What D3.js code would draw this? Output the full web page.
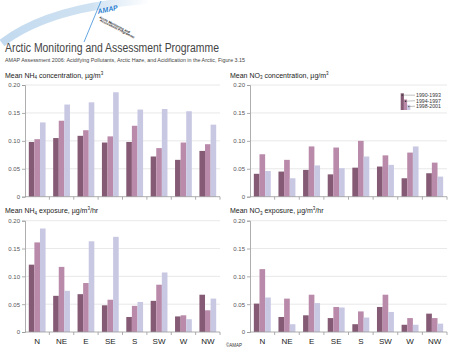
<!DOCTYPE html>
<html>
<head>
<meta charset="utf-8">
<script src="https://cdn.jsdelivr.net/npm/d3@7"></script>
<style>
  body { margin: 0; background: #fff; }
  svg { display: block; font-family: "Liberation Sans", Arial, sans-serif; }
</style>
</head>
<body>
<div id="chart"></div>
<script>
// Data
const directions = ["N", "NE", "E", "SE", "S", "SW", "W", "NW"];
const periods = ["1990-1993", "1994-1997", "1998-2001"];
const yTicks = [0, 0.05, 0.10, 0.15, 0.20];

// each array: [1990-1993, 1994-1997, 1998-2001] per direction
const nh4Concentration = [
    [0.098, 0.105, 0.109, 0.097, 0.098, 0.072, 0.066, 0.082],
    [0.103, 0.136, 0.119, 0.108, 0.127, 0.087, 0.097, 0.094],
    [0.133, 0.165, 0.169, 0.187, 0.156, 0.157, 0.153, 0.129]
];
const no3Concentration = [
    [0.041, 0.045, 0.048, 0.040, 0.052, 0.054, 0.033, 0.042],
    [0.076, 0.066, 0.090, 0.088, 0.100, 0.074, 0.079, 0.061],
    [0.046, 0.033, 0.056, 0.051, 0.072, 0.057, 0.090, 0.036]
];
const nh4Exposure = [
    [0.121, 0.065, 0.068, 0.048, 0.027, 0.056, 0.028, 0.067],
    [0.161, 0.117, 0.088, 0.058, 0.047, 0.085, 0.030, 0.039],
    [0.186, 0.074, 0.163, 0.171, 0.054, 0.107, 0.023, 0.060]
];
const no3Exposure = [
    [0.051, 0.027, 0.030, 0.025, 0.014, 0.045, 0.013, 0.033],
    [0.113, 0.060, 0.067, 0.045, 0.037, 0.067, 0.025, 0.025],
    [0.062, 0.014, 0.052, 0.044, 0.026, 0.036, 0.013, 0.015]
];

const colors = ["#845a74", "#b98aa9", "#c8c8e3"];

const svg = d3.select("#chart")
              .append("svg")
              .attr("width", 450)
              .attr("height", 350);

svg.append("rect").attr("width", 450).attr("height", 350).attr("fill", "#fff");

// Header: arc, logo, titles
const defs = svg.append("defs");
const grad = defs.append("linearGradient")
                 .attr("id", "arcGrad")
                 .attr("x1", "0%").attr("x2", "100%");
grad.append("stop").attr("offset", "0%").attr("stop-color", "#c3daef");
grad.append("stop").attr("offset", "60%").attr("stop-color", "#cfe2f2");
grad.append("stop").attr("offset", "100%").attr("stop-color", "#ffffff");

svg.append("path")
   .attr("d", "M2,43 Q50,6 150,0")
   .attr("fill", "none")
   .attr("stroke", "url(#arcGrad)")
   .attr("stroke-width", 8);

svg.append("line")
   .attr("x1", 84).attr("y1", 42)
   .attr("x2", 101).attr("y2", 1)
   .attr("stroke", "#3c8fd8")
   .attr("stroke-width", 0.8);

svg.append("text")
   .attr("transform", "translate(98,14) rotate(-12)")
   .attr("font-size", 7)
   .attr("font-style", "italic")
   .attr("font-weight", "bold")
   .attr("fill", "#2a7fd0")
   .text("AMAP");

const logoLines = ["Arctic Monitoring and", "Assessment Programme"];
logoLines.forEach((t, i) => {
    svg.append("text")
       .attr("transform", `translate(${99 + i * 0.5},${18 + i * 3}) rotate(27)`)
       .attr("font-size", 3.3)
       .attr("font-weight", "bold")
       .attr("fill", "#222")
       .text(t);
});

svg.append("text")
   .attr("x", 5).attr("y", 52)
   .attr("font-size", 12.5)
   .attr("fill", "#444")
   .attr("textLength", 214)
   .attr("lengthAdjust", "spacingAndGlyphs")
   .text("Arctic Monitoring and Assessment Programme");

svg.append("text")
   .attr("x", 5).attr("y", 61.5)
   .attr("font-size", 5.5)
   .attr("fill", "#444")
   .attr("textLength", 240)
   .attr("lengthAdjust", "spacingAndGlyphs")
   .text("AMAP Assessment 2006: Acidifying Pollutants, Arctic Haze, and Acidification in the Arctic, Figure 3.15");

// Panels
const panels = [
    { data: nh4Concentration, species: "NH", sub: "4", rest: " concentration, µg/m", unit: "", x0: 25, x1: 220, top: 85, bottom: 196.7, titleY: 77.5, labels: false },
    { data: no3Concentration, species: "NO", sub: "3", rest: " concentration, µg/m", unit: "", x0: 250, x1: 447, top: 85, bottom: 196.7, titleY: 77.5, labels: false, legend: true },
    { data: nh4Exposure, species: "NH", sub: "4", rest: " exposure, µg/m", unit: "/hr", x0: 25, x1: 220, top: 220.7, bottom: 332, titleY: 213, labels: true },
    { data: no3Exposure, species: "NO", sub: "3", rest: " exposure, µg/m", unit: "/hr", x0: 250, x1: 447, top: 220.7, bottom: 332, titleY: 213, labels: true }
];

panels.forEach(p => {
    const g = svg.append("g");

    const x = d3.scaleBand()
                .domain(directions)
                .range([p.x0, p.x1]);

    const xInner = d3.scaleBand()
                     .domain(periods)
                     .range([0, x.bandwidth()])
                     .paddingOuter(0.68);

    const y = d3.scaleLinear()
                .domain([0, 0.2])
                .range([p.bottom, p.top]);

    // gridlines
    g.selectAll(".grid")
     .data(yTicks.filter(d => d > 0))
     .enter()
     .append("line")
     .attr("x1", p.x0).attr("x2", p.x1)
     .attr("y1", d => y(d)).attr("y2", d => y(d))
     .attr("stroke", "#e2e2e2")
     .attr("stroke-width", 0.8);

    // bars
    p.data.forEach((series, si) => {
        g.selectAll(".bar" + si)
         .data(series)
         .enter()
         .append("rect")
         .attr("x", (d, i) => x(directions[i]) + xInner(periods[si]))
         .attr("y", d => y(d))
         .attr("width", xInner.bandwidth())
         .attr("height", d => y(0) - y(d))
         .attr("fill", colors[si]);
    });

    // y axis
    const yAxis = g.append("g")
                   .attr("transform", `translate(${p.x0},0)`)
                   .call(d3.axisLeft(y)
                           .tickValues(yTicks)
                           .tickSize(3)
                           .tickFormat(d => d === 0 ? "0" : d3.format(".2f")(d)));
    yAxis.select(".domain").attr("stroke", "#999").attr("stroke-width", 0.8);
    yAxis.selectAll(".tick line").attr("stroke", "#999").attr("stroke-width", 0.8);
    yAxis.selectAll(".tick text")
         .attr("font-size", 6)
         .attr("fill", "#555")
         .attr("x", -5)
         .style("font-family", "Liberation Sans, Arial, sans-serif");

    // x axis baseline and boundary ticks
    g.append("line")
     .attr("x1", p.x0).attr("x2", p.x1)
     .attr("y1", y(0)).attr("y2", y(0))
     .attr("stroke", "#999")
     .attr("stroke-width", 0.8);

    const bounds = directions.map(d => x(d)).concat([p.x1]).slice(1);
    g.selectAll(".xtick")
     .data(bounds)
     .enter()
     .append("line")
     .attr("x1", d => d).attr("x2", d => d)
     .attr("y1", y(0)).attr("y2", y(0) + 3)
     .attr("stroke", "#999")
     .attr("stroke-width", 0.8);

    if (p.labels) {
        g.selectAll(".xlabel")
         .data(directions)
         .enter()
         .append("text")
         .attr("x", d => x(d) + x.bandwidth() / 2)
         .attr("y", y(0) + 12)
         .attr("text-anchor", "middle")
         .attr("font-size", 8)
         .attr("fill", "#222")
         .text(d => d);
    }

    // title with sub/superscripts
    const t = g.append("text")
               .attr("x", p.x0 - 20)
               .attr("y", p.titleY)
               .attr("font-size", 7)
               .attr("fill", "#222");
    t.append("tspan").text("Mean " + p.species);
    t.append("tspan").attr("font-size", 4.5).attr("dy", 1.5).text(p.sub);
    t.append("tspan").attr("dy", -1.5).text(p.rest);
    t.append("tspan").attr("font-size", 4.5).attr("dy", -3).text("3");
    t.append("tspan").attr("dy", 3).text(p.unit);

    // legend
    if (p.legend) {
        const lx = 400.7, lb = 110, bw = 3.2;
        const tops = [93.3, 99.5, 104.8];
        const labelY = [97, 102.5, 108];
        periods.forEach((per, i) => {
            g.append("rect")
             .attr("x", lx + i * bw).attr("y", tops[i])
             .attr("width", bw).attr("height", lb - tops[i])
             .attr("fill", colors[i]);
            g.append("circle")
             .attr("cx", lx + i * bw + bw / 2).attr("cy", tops[i] + 1.8)
             .attr("r", 0.7)
             .attr("fill", i === 2 ? "#555" : "#222");
            g.append("line")
             .attr("x1", lx + i * bw + bw / 2).attr("x2", 415)
             .attr("y1", tops[i] + 1.8).attr("y2", labelY[i] - 1.8)
             .attr("stroke", "#666")
             .attr("stroke-width", 0.4);
            g.append("text")
             .attr("x", 416).attr("y", labelY[i])
             .attr("font-size", 5.2)
             .attr("fill", "#333")
             .text(per);
        });
    }
});

svg.append("text")
   .attr("x", 226).attr("y", 347)
   .attr("font-size", 4.5)
   .attr("fill", "#333")
   .text("©AMAP");
</script>
</body>
</html>
